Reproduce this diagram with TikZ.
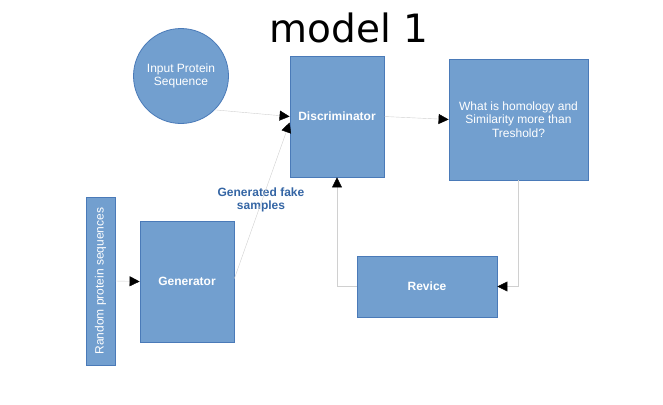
\documentclass[tikz,border=0pt]{standalone}
\usepackage{fontspec}
\setmainfont{Liberation Sans}
\newfontfamily\titlefont{DejaVu Sans}
\usetikzlibrary{arrows.meta}
\definecolor{boxfill}{HTML}{729FCF}
\definecolor{boxline}{HTML}{4A7AB8}
\definecolor{labelblue}{HTML}{3465A4}
\definecolor{wire}{HTML}{D0D0D0}
\begin{document}
\begin{tikzpicture}[
            x=1pt, y=-1pt,
            font=\fontsize{12}{13.5}\selectfont,
            block/.style={
                draw=boxline, fill=boxfill, thick, text=white,
                minimum width=#1, align=center, inner sep=3pt
            },
            bold/.style={font=\fontsize{12}{13.5}\selectfont\bfseries},
            link/.style={wire, thin, -{Triangle[black,length=10pt,width=10pt]}}
        ]
        \useasboundingbox (0,0) rectangle (663,404);

        % --- Title ---
        \node[anchor=base, font=\titlefont\fontsize{39}{44}\selectfont] (ttl) at (349,42) {model 1};

        % --- Blocks ---
        \node[block=95pt, circle] (inp) at (181,76) {Input Protein\\Sequence};
        \node[block=94pt, minimum height=121pt, bold] (disc) at (337,116.5) {Discriminator};
        \node[block=139pt, minimum height=121pt] (thr) at (518.5,119.5)
        {What is homology and\\Similarity more than\\Treshold?};
        \node[block=94pt, minimum height=121pt, bold] (gen) at (187,281.5) {Generator};
        \node[block=168pt, minimum height=29pt, rotate=90] (rnd) at (100.5,281) {Random protein sequences};
        \node[block=140pt, minimum height=61pt, bold] (rev) at (427,286.5) {Revice};

        \node[text=labelblue, bold, align=center] (lbl) at (261,200) {Generated fake\\samples};

        % --- Connectors ---
        \draw[link] (inp.-45) -- (disc.west);
        \draw[link] ([yshift=3pt]gen.east) -- ([yshift=-6pt]disc.west);
        \draw[link] (rnd.south) -- (gen.west);
        \draw[link] (disc.east) -- (thr.west);
        \draw[link] (thr.south) |- (rev.east);
        \draw[link] (rev.west) -| (disc.south);

    \end{tikzpicture}
\end{document}
